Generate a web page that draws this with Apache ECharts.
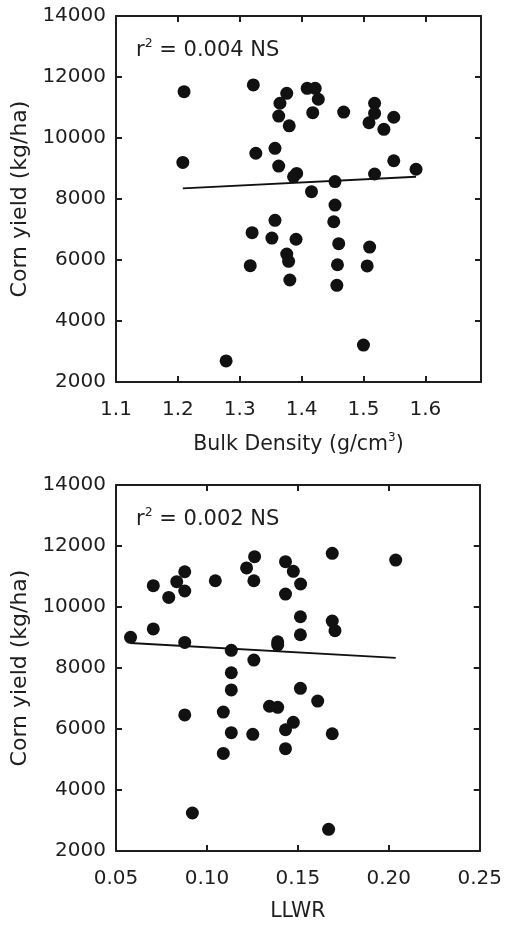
<!DOCTYPE html>
<html>
<head>
<meta charset="utf-8">
<script src="https://cdn.jsdelivr.net/npm/echarts@6/dist/echarts.min.js"></script>
<style>
html,body{margin:0;padding:0;background:#fff;}
#c{width:505px;height:930px;}
</style>
</head>
<body>
<div id="c"></div>
<script>
// ---- data ----
const bdX = [1.210,1.322,1.376,1.365,1.409,1.422,1.427,1.363,1.380,1.418,1.468,1.518,1.518,1.509,1.533,1.549,
  1.208,1.326,1.357,1.363,1.392,1.387,1.549,1.585,1.518,1.454,1.416,1.454,1.452,1.357,1.320,1.352,1.391,1.460,
  1.510,1.376,1.379,1.317,1.458,1.506,1.381,1.457,1.500,1.278];
const bdY = [11520,11740,11465,11140,11630,11630,11270,10720,10400,10830,10850,11140,10810,10500,10285,10680,
  9200,9500,9660,9080,8840,8730,9255,8975,8820,8570,8240,7800,7255,7300,6895,6720,6680,6535,
  6425,6195,5955,5815,5845,5805,5345,5170,3210,2690];
const bdFitX = [1.208, 1.585];
const bdFitY = [8350, 8730];

const llwrX = [0.0580,0.0705,0.0705,0.0790,0.0834,0.0878,0.0878,0.0878,0.1046,0.1218,0.1262,0.1258,0.1134,0.1258,
  0.1432,0.1475,0.1515,0.1432,0.1689,0.2038,0.1514,0.1514,0.1689,0.1704,0.1389,0.1389,0.1134,0.1134,0.1514,
  0.1609,0.1344,0.1389,0.0878,0.1090,0.1475,0.1432,0.1134,0.1252,0.1689,0.1432,0.1090,0.0920,0.1669];
const llwrY = [9005,10700,9280,10315,10830,11155,10525,8840,10860,11280,11650,10860,8580,8260,
  11485,11170,10755,10425,11760,11540,9680,9090,9540,9225,8860,8755,7845,7280,7335,
  6915,6745,6710,6460,6555,6220,5975,5880,5825,5845,5355,5200,3245,2710];
const llwrFitX = [0.0578, 0.2038];
const llwrFitY = [8820, 8335];

const yRange = [2000, 14000, 2000];        // min, max, interval
const bdRange = [1.1, 1.69, 0.1];
const llwrRange = [0.05, 0.25, 0.05];
const yTitle = 'Corn yield (kg/ha)';
const bdTitle = 'Bulk Density (g/cm{sup|3}{n|)}';
const llwrTitle = 'LLWR';
const bdR2 = '0.004 NS';
const llwrR2 = '0.002 NS';

// ---- chart ----
const FONT = '"DejaVu Sans", "Liberation Sans", Arial, sans-serif';
const INK = '#1e1e1e';
const FS = 20;

function zip(a, b){ return a.map((v,i)=>[v, b[i]]); }

const lineStyle = {color: INK, width: 2};
function xAx(grid, range, dec, pos, title, gap){
  const main = pos === 'bottom';
  return {
    type:'value', gridIndex:grid, position:pos, min:range[0], max:range[1], interval:range[2],
    axisLine:{show:true, onZero:false, lineStyle},
    axisTick:{show:true, inside:true, length:6, lineStyle},
    axisLabel:{show:main, margin:18, color:INK, fontSize:FS, fontFamily:FONT, showMaxLabel: range[1] === 0.25,
      formatter:(v)=>{ const k=Math.round((v-range[0])/range[2]); if (Math.abs(range[0]+k*range[2]-v)>1e-6) return ''; return v.toFixed(dec);} },
    splitLine:{show:false},
    name: main ? title : '', nameLocation:'middle', nameGap:gap,
    nameTextStyle:{color:INK, fontSize:20.5, fontFamily:FONT, lineHeight:26,
      rich:{sup:{fontSize:12, color:INK, fontFamily:FONT, verticalAlign:'top', lineHeight:12},
            n:{fontSize:20.5, color:INK, fontFamily:FONT, lineHeight:26}}}
  };
}
function yAx(grid, pos){
  const main = pos === 'left';
  return {
    type:'value', gridIndex:grid, position:pos, min:yRange[0], max:yRange[1], interval:yRange[2],
    axisLine:{show:true, onZero:false, lineStyle},
    axisTick:{show:true, inside:true, length:6, lineStyle},
    axisLabel:{show:main, margin:10, color:INK, fontSize:FS, fontFamily:FONT, formatter:(v)=>String(v)},
    splitLine:{show:false},
    name: main ? yTitle : '', nameLocation:'middle', nameGap:82, nameRotate:90,
    nameTextStyle:{color:INK, fontSize:22, fontFamily:FONT}
  };
}
function scatter(xi, yi, xs, ys){
  return {type:'scatter', xAxisIndex:xi, yAxisIndex:yi, data:zip(xs, ys), symbol:'circle', symbolSize:13,
    itemStyle:{color:'#111', opacity:1}, silent:true, z:3};
}
function fit(xi, yi, xs, ys){
  return {type:'line', xAxisIndex:xi, yAxisIndex:yi, data:zip(xs, ys), showSymbol:false, symbol:'none',
    lineStyle:{color:'#111', width:1.8}, silent:true, z:2};
}
function r2Text(top, val){
  return {type:'text', left:136, top:top, silent:true,
    style:{text:'{a|r}{s|2}{a| = ' + val + '}', rich:{
      a:{fontSize:21, fontFamily:FONT, fill:INK, color:INK, lineHeight:28},
      s:{fontSize:12.5, fontFamily:FONT, fill:INK, color:INK, verticalAlign:'top', lineHeight:12}}}};
}

const chart = echarts.init(document.getElementById('c'), null, {renderer:'canvas'});
chart.setOption({
  animation:false,
  backgroundColor:'#fff',
  grid:[
    {left:116, top:16, width:365, height:366},
    {left:116, top:485, width:365, height:366}
  ],
  xAxis:[
    xAx(0, bdRange, 1, 'bottom', bdTitle, 50),
    xAx(0, bdRange, 1, 'top', '', 0),
    xAx(1, llwrRange, 2, 'bottom', llwrTitle, 48),
    xAx(1, llwrRange, 2, 'top', '', 0)
  ],
  yAxis:[ yAx(0,'left'), yAx(0,'right'), yAx(1,'left'), yAx(1,'right') ],
  series:[
    fit(0,0,bdFitX,bdFitY), scatter(0,0,bdX,bdY),
    fit(2,2,llwrFitX,llwrFitY), scatter(2,2,llwrX,llwrY)
  ],
  graphic:[ r2Text(37, bdR2), r2Text(506, llwrR2) ]
});
</script>
</body>
</html>
